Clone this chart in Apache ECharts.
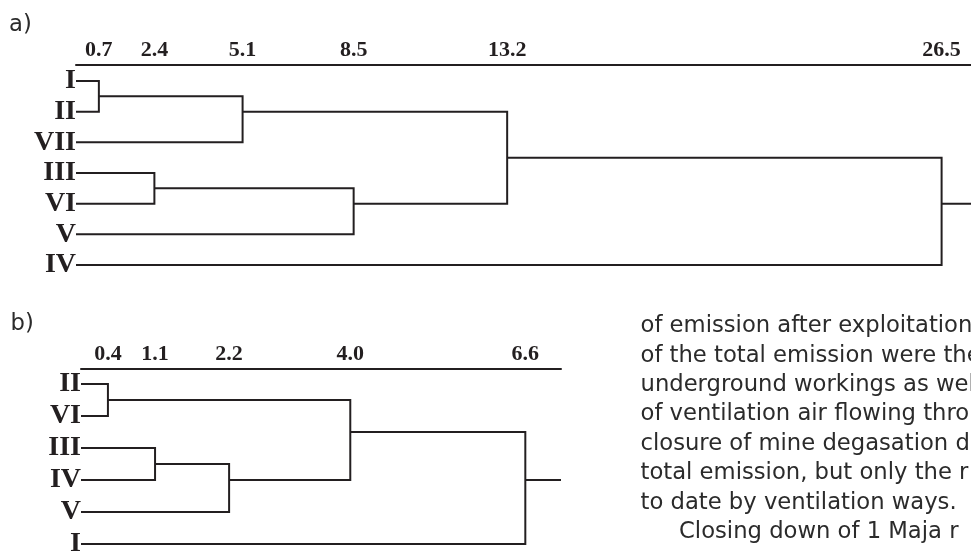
<!DOCTYPE html>
<html>
<head>
<meta charset="utf-8">
<script src="https://cdn.jsdelivr.net/npm/echarts@6/dist/echarts.min.js"></script>
<style>
  html, body { margin: 0; padding: 0; background: #ffffff; }
  #chart { width: 971px; height: 551px; }
</style>
</head>
<body>
<div id="chart"></div>
<script>
// Panel a) - seven objects; node ids: leaves 0..6, then joins 7..12 in order
const leavesA  = ['I', 'II', 'VII', 'III', 'VI', 'V', 'IV'];
const joinsA   = [[0, 1], [7, 2], [3, 4], [9, 5], [8, 10], [11, 6]];
const heightsA = [0.7, 5.1, 2.4, 8.5, 13.2, 26.5];
const rowsA    = [0.5, 1.0, 3.5, 4.0, 2.5, 4.0];
const ticksA   = [0.7, 2.4, 5.1, 8.5, 13.2, 26.5];

// Panel b) - six objects; node ids: leaves 0..5, then joins 6..10
const leavesB  = ['II', 'VI', 'III', 'IV', 'V', 'I'];
const joinsB   = [[0, 1], [2, 3], [7, 4], [6, 8], [9, 5]];
const heightsB = [0.4, 1.1, 2.2, 4.0, 6.6];
const rowsB    = [0.5, 2.5, 3.0, 1.5, 3.0];
const ticksB   = [0.4, 1.1, 2.2, 4.0, 6.6];

// Running text beside panel b)
const paragraph = [
  'of emission after exploitation',
  'of the total emission were the',
  'underground workings as well',
  'of ventilation air flowing through',
  'closure of mine degasation d',
  'total emission, but only the r',
  'to date by ventilation ways.',
  'Closing down of 1 Maja r'
];

const INK = '#231f20';
const TEXT = '#2b2b2b';
const SERIF = '"Liberation Serif", "Times New Roman", serif';
const SANS = '"DejaVu Sans", Verdana, sans-serif';

const X_MAX_A = 27.4;
const X_MAX_B = 7.13;

function dendrogram(leaves, joins, heights, rows, axisIdx, tailTo) {
  const n = leaves.length;
  const h = id => (id < n ? 0 : heights[id - n]);
  const r = id => (id < n ? id : rows[id - n]);
  const base = {
    type: 'line',
    xAxisIndex: axisIdx,
    yAxisIndex: axisIdx,
    symbol: 'none',
    silent: true,
    animation: false,
    lineStyle: { color: INK, width: 2, join: 'miter', cap: 'butt' }
  };
  const out = joins.map(([a, b], k) => Object.assign({}, base, {
    data: [[h(a), r(a)], [heights[k], r(a)], [heights[k], r(b)], [h(b), r(b)]]
  }));
  const last = joins.length - 1;
  out.push(Object.assign({}, base, {
    data: [[heights[last], rows[last]], [tailTo, rows[last]]]
  }));
  return out;
}

function xAxisFor(idx, max, ticks) {
  return {
    gridIndex: idx,
    type: 'value',
    position: 'top',
    min: 0,
    max: max,
    axisLine: { show: true, onZero: false, lineStyle: { color: INK, width: 2 } },
    axisTick: { show: false },
    splitLine: { show: false },
    axisLabel: {
      customValues: ticks,
      formatter: v => Number(v).toFixed(1),
      margin: 4,
      color: INK,
      fontFamily: SERIF,
      fontWeight: 'bold',
      fontSize: 22
    }
  };
}

function yAxisFor(idx, min, max, leaves) {
  return {
    gridIndex: idx,
    type: 'value',
    inverse: true,
    min: min,
    max: max,
    axisLine: { show: false },
    axisTick: { show: false },
    splitLine: { show: false },
    axisLabel: {
      customValues: leaves.map((_, i) => i),
      formatter: v => leaves[Math.round(v)],
      margin: 0,
      color: INK,
      fontFamily: SERIF,
      fontWeight: 'bold',
      fontSize: 28
    }
  };
}

const textEls = [
  { type: 'text', x: 9, y: 24.8, style: { text: 'a)', font: '22.7px ' + SANS, fill: TEXT, verticalAlign: 'middle' } },
  { type: 'text', x: 10.5, y: 324.5, style: { text: 'b)', font: '22.7px ' + SANS, fill: TEXT, verticalAlign: 'middle' } }
];
paragraph.forEach((line, i) => {
  textEls.push({
    type: 'text',
    x: i === paragraph.length - 1 ? 679 : 640.5,
    y: 326.3 + i * 29.4,
    style: { text: line, font: '22.7px ' + SANS, fill: TEXT, verticalAlign: 'middle' }
  });
});

const chart = echarts.init(document.getElementById('chart'), null, { renderer: 'canvas' });
chart.setOption({
  backgroundColor: '#ffffff',
  animation: false,
  grid: [
    { left: 76, top: 65, width: 895, height: 215.4, containLabel: false, outerBoundsMode: 'none' },
    { left: 81, top: 369, width: 480, height: 184.6, containLabel: false, outerBoundsMode: 'none' }
  ],
  xAxis: [xAxisFor(0, X_MAX_A, ticksA), xAxisFor(1, X_MAX_B, ticksB)],
  yAxis: [yAxisFor(0, -0.52, 6.5, leavesA), yAxisFor(1, -0.47, 5.3, leavesB)],
  series: [].concat(
    dendrogram(leavesA, joinsA, heightsA, rowsA, 0, X_MAX_A),
    dendrogram(leavesB, joinsB, heightsB, rowsB, 1, X_MAX_B)
  ),
  graphic: { elements: textEls }
});
</script>
</body>
</html>
